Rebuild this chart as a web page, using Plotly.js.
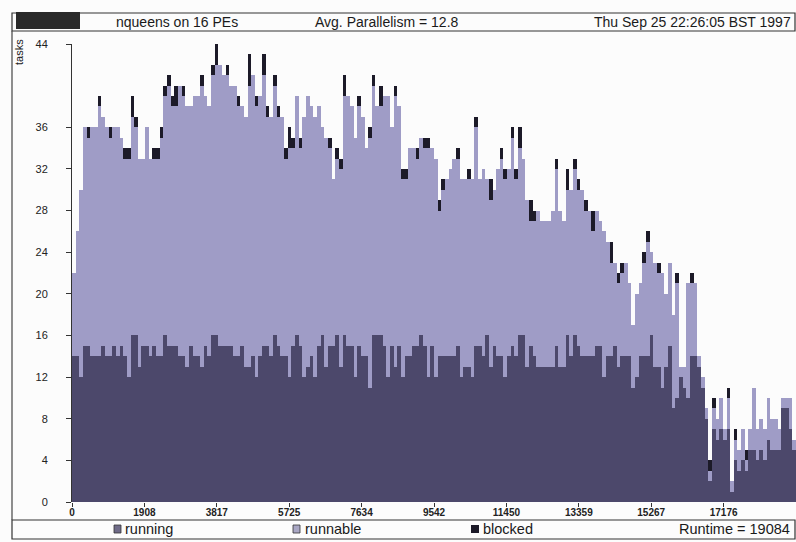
<!DOCTYPE html>
<html>
<head>
<meta charset="utf-8">
<script src="https://cdn.plot.ly/plotly-3.0.1.min.js"></script>
<style>
html,body{margin:0;padding:0;background:#fcfcfc;overflow:hidden;}
#chart{width:796px;height:542px;}
</style>
</head>
<body>
<div id="chart"></div>
<script>
// ---- data read from the activity profile (tasks per time bucket) ----
const runtime = 19084;
const running = [14,14,12,15,15,14,14,14,15,14, 14,15,14,15,14,12,16,16,13,15,
  15,14,15,14,14,16,15,15,15,14, 14,13,15,14,14,13,15,14,16,16,
  15,15,15,15,14,14,15,13,13,14, 12,14,15,15,14,16,15,14,14,12,
  15,16,15,12,13,14,12,15,16,13, 15,15,16,13,16,15,15,12,15,14,
  14,11,16,16,16,15,12,15,13,15, 12,14,14,15,15,16,15,12,15,12,
  14,14,14,14,14,15,12,13,13,12, 15,15,14,16,13,15,14,14,12,14,
  15,14,16,16,13,15,14,13,13,13, 13,13,15,13,13,16,14,16,15,14,
  14,14,14,15,15,12,14,14,15,13, 14,14,14,11,12,14,14,14,16,13,
  13,11,13,15,9,10,12,11,10,14, 14,13,11,8,2,7,6,7,6,7,
  1,4,3,4,3,5,5,4,5,4, 6,5,5,5,9,9,7,5];
const runnable = [8,12,18,21,20,22,22,24,22,22, 21,21,22,20,19,21,21,20,20,18,
  21,19,18,19,21,23,25,23,23,26, 25,25,23,25,25,27,24,24,25,26,
  27,26,26,25,26,24,23,24,27,27, 26,25,26,22,23,24,22,23,19,22,
  19,23,19,25,26,24,25,23,20,22, 19,16,17,19,23,24,23,23,23,23,
  20,24,24,22,22,24,27,21,26,23, 19,17,20,19,18,19,19,22,19,21,
  14,16,17,18,19,18,19,18,18,19, 21,16,18,15,16,15,18,19,19,18,
  20,17,18,17,16,12,13,15,14,14, 14,15,17,15,14,14,16,16,15,16,
  14,14,12,13,12,14,11,9,8,8, 8,9,7,6,8,7,9,11,8,10,
  9,11,7,8,9,11,1,2,11,7, 7,1,1,1,1,2,2,3,1,3,
  1,2,2,3,1,2,6,3,3,3, 4,3,3,2,1,1,3,1];
const blocked = [0,0,0,0,1,0,0,1,0,0, 1,0,0,0,1,1,2,1,0,0,
  0,0,1,1,1,1,1,1,2,0, 1,0,0,0,0,1,0,0,1,2,
  0,0,1,0,0,1,0,0,3,0, 1,0,2,1,0,1,1,0,1,2,
  1,0,1,0,0,0,0,0,0,0, 1,0,1,1,2,0,0,0,1,0,
  0,1,1,0,2,0,0,0,1,0, 1,1,0,0,1,0,1,1,0,0,
  1,1,0,0,0,1,0,0,1,0, 1,0,0,0,2,0,0,1,1,0,
  1,1,2,0,0,2,1,0,0,0, 0,0,1,0,0,2,0,1,1,0,
  1,0,2,0,0,0,0,2,0,1, 1,0,0,0,0,0,1,1,0,0,
  1,0,0,0,0,1,0,0,0,1, 0,0,0,0,1,1,0,0,0,1,
  0,1,0,0,1,0,0,0,0,0, 0,0,0,0,0,0,0,0];
const xTickText = ["0","1908","3817","5725","7634","9542","11450","13359","15267","17176"];
const yTickVals = [0,4,8,12,16,20,24,28,32,36,44];
const seriesNames = ["running","runnable","blocked"];
const headerTexts = ["nqueens on 16 PEs","Avg. Parallelism = 12.8","Thu Sep 25 22:26:05 BST 1997"];
const runtimeText = "Runtime = 19084";

// ---- build ----
const nB = running.length;
const bw = runtime / nB;
const xs = running.map((_, i) => (i + 0.5) * bw);
const colors = ["#4c486b", "#9f9cc6", "#1c1a28"];
const series = [running, runnable, blocked];
const traces = series.map((ys, k) => ({
  type: "bar", x: xs, y: ys, width: bw, name: seriesNames[k],
  marker: {color: colors[k], line: {width: 0}}, hoverinfo: "skip"
}));

// pixel -> paper helpers for decorations (plot area: x 72..796, y 44..502)
const L = 72, R = 796, T = 44, B = 502;
const px = v => (v - L) / (R - L);
const py = v => (B - v) / (B - T);
const FONT = "Liberation Sans, Arial, Helvetica, sans-serif";

const ann = (x, y, text, xanchor, size, extra) => Object.assign({
  xref: "paper", yref: "paper", x: px(x), y: py(y), text: text, showarrow: false,
  xanchor: xanchor, yanchor: "middle", font: {family: FONT, size: size, color: "#1a1a1a"}
}, extra || {});

const layout = {
  width: 796, height: 542,
  margin: {l: L, r: 0, t: T, b: 542 - B, pad: 0},
  paper_bgcolor: "#fcfcfc", plot_bgcolor: "#fcfcfc",
  barmode: "stack", bargap: 0, showlegend: false,
  xaxis: {
    range: [0, runtime], tickvals: xTickText.map((_, k) => k * runtime / 10), ticktext: xTickText,
    ticks: "outside", ticklen: 4, tickcolor: "#333", showgrid: false, zeroline: false, showline: false,
    ticklabelstandoff: -3,
    tickfont: {family: FONT, size: 10, color: "#222", weight: "bold"}
  },
  yaxis: {
    range: [0, 44], tickvals: yTickVals, ticks: "outside", ticklen: 5, tickcolor: "#333",
    showline: true, linecolor: "#333", linewidth: 1, showgrid: false, zeroline: false,
    ticklabelstandoff: 16, tickfont: {family: FONT, size: 11, color: "#222"}
  },
  annotations: [
    ann(177, 22, headerTexts[0], "center", 14),
    ann(387, 22, headerTexts[1], "center", 14),
    ann(793, 22, headerTexts[2], "right", 14),
    ann(19, 52, "tasks", "center", 11, {textangle: -90}),
    ann(123, 529, seriesNames[0], "left", 14.5),
    ann(303, 529, seriesNames[1], "left", 14.5),
    ann(481, 529, seriesNames[2], "left", 14.5),
    ann(792, 529, runtimeText, "right", 14.5)
  ],
  shapes: [
    {type: "rect", xref: "paper", yref: "paper", x0: px(12), x1: px(795), y0: py(31), y1: py(13),
     line: {color: "#333", width: 1.2}, fillcolor: "rgba(0,0,0,0)"},
    {type: "rect", xref: "paper", yref: "paper", x0: px(12), x1: px(795), y0: py(539), y1: py(520),
     line: {color: "#333", width: 1.2}, fillcolor: "rgba(0,0,0,0)"},
    {type: "line", xref: "paper", yref: "paper", x0: px(12), x1: px(12), y0: py(31), y1: py(520),
     line: {color: "#444", width: 1.2}},
    {type: "rect", xref: "paper", yref: "paper", x0: px(16), x1: px(80), y0: py(29), y1: py(12),
     line: {width: 0}, fillcolor: "#2a2a2a"},
    {type: "rect", xref: "paper", yref: "paper", x0: px(114), x1: px(121), y0: py(533), y1: py(525),
     line: {color: "#333", width: 0.8}, fillcolor: "#6f6b88"},
    {type: "rect", xref: "paper", yref: "paper", x0: px(293), x1: px(300), y0: py(533), y1: py(525),
     line: {color: "#333", width: 0.8}, fillcolor: "#a9a7c4"},
    {type: "rect", xref: "paper", yref: "paper", x0: px(471), x1: px(479), y0: py(533), y1: py(525),
     line: {width: 0}, fillcolor: "#1c1a28"}
  ]
};

Plotly.newPlot("chart", traces, layout, {staticPlot: true, displayModeBar: false});
</script>
</body>
</html>
